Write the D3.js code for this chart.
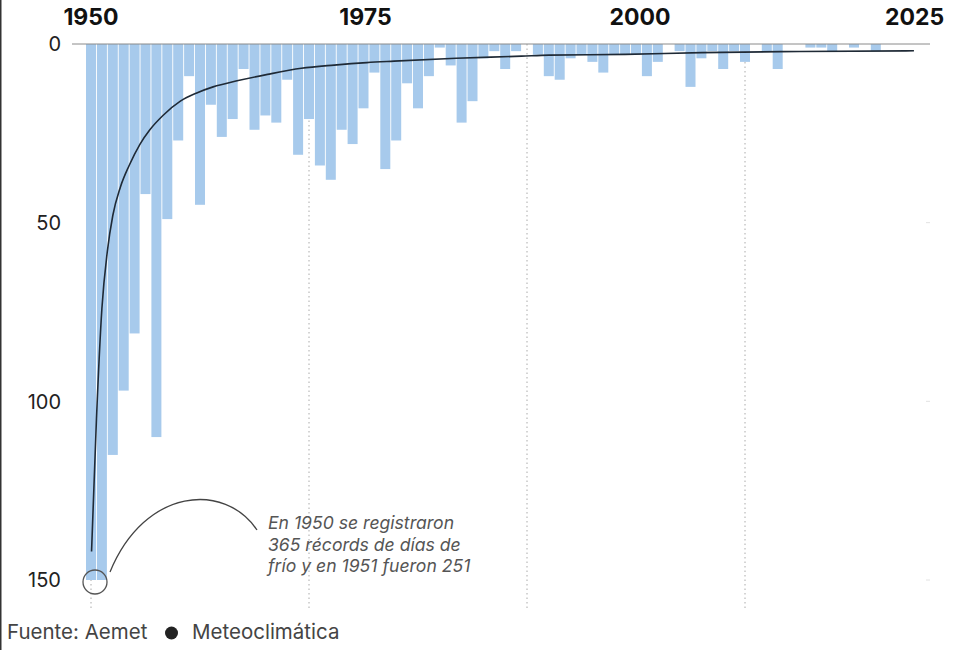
<!DOCTYPE html>
<html>
<head>
<meta charset="utf-8">
<script src="https://cdn.jsdelivr.net/npm/d3@7"></script>
<style>
	body { margin: 0; background: #fff; }
	svg { display: block; font-family: Inter, "Noto Sans", sans-serif; }
	.bar { fill: #a7caec; }
	.grid { stroke: #aaa; stroke-dasharray: 1.5 3; }
	.baseline { stroke: #8a8a8a; }
	.trend { fill: none; stroke: #1f2a36; stroke-width: 1.6; }
	.y-label { font-size: 20px; fill: #222; }
	.x-label { font-size: 23px; font-weight: 700; fill: #111; }
	.note { font-size: 17.6px; font-style: italic; fill: #555; }
	.source { font-size: 20.5px; fill: #444; }
</style>
</head>
<body>
<svg id="chart" width="960" height="650"></svg>
<script>
// récords de días de frío por año (1950 y 1951 salen del gráfico)
const years = d3.range(1950, 2025);
const records = [
	365, 251, 115, 97, 81, 42, 110, 49, 27, 9,
	45, 17, 26, 21, 7, 24, 20, 22, 10, 31,
	21, 34, 38, 24, 28, 18, 8, 35, 27, 11,
	18, 9, 1, 6, 22, 16, 4, 2, 7, 2,
	0, 3, 9, 10, 4, 3, 5, 8, 3, 3,
	3, 9, 5, 0, 2, 12, 4, 2, 7, 2,
	5, 0, 2, 7, 0, 0, 1, 1, 2, 0,
	1, 0, 2, 0, 0
];

// tendencia
const trendYears = [1950.05, 1950.5, 1951, 1951.5, 1952, 1952.7, 1953.5, 1954.5, 1955.4, 1956.6, 1958.2, 1959.7, 1961.2, 1963.4, 1966.2, 1969.3, 1972.3, 1975.3, 1977.8, 1983.5, 1989.5, 1992, 1999, 2006, 2015, 2025.5];
const trendValues = [142, 105, 74, 58, 48, 40, 34, 28, 24, 20, 16, 13.7, 12, 10.3, 8.5, 6.8, 5.9, 5.2, 4.8, 4.0, 3.4, 3.1, 2.9, 2.4, 2.1, 1.9];

const xTicks = [1950, 1975, 2000, 2025];
const gridYears = [1950, 1970, 1990, 2010];
const yTicks = [0, 50, 100, 150];

const noteLines = [
	'En 1950 se registraron',
	'365 récords de días de',
	'frío y en 1951 fueron 251'
];

const svg = d3.select('#chart');

const x = d3.scaleLinear().domain([1950, 2025]).range([91, 908.5]);
const y = d3.scaleLinear().domain([0, 150]).range([44, 580]).clamp(true);
const barWidth = 10;

// borde izquierdo del recorte
svg.append('rect').attr('x', 0).attr('y', 0).attr('width', 1.5).attr('height', 650).attr('fill', '#333');

svg.append('g')
	.selectAll('line')
	.data(gridYears)
	.join('line')
	.attr('class', 'grid')
	.attr('x1', d => x(d)).attr('x2', d => x(d))
	.attr('y1', y(0)).attr('y2', 608);

// marcas pequeñas a la derecha
svg.append('g')
	.selectAll('line')
	.data(yTicks.slice(1))
	.join('line')
	.attr('x1', 926).attr('x2', 930)
	.attr('y1', d => y(d)).attr('y2', d => y(d))
	.attr('stroke', '#e2e2e2');

svg.append('g')
	.selectAll('rect')
	.data(years)
	.join('rect')
	.attr('class', 'bar')
	.attr('x', (d, i) => x(d) - barWidth / 2)
	.attr('y', y(0))
	.attr('width', barWidth)
	.attr('height', (d, i) => y(records[i]) - y(0));

svg.append('line')
	.attr('class', 'baseline')
	.attr('x1', 72).attr('x2', 930)
	.attr('y1', y(0)).attr('y2', y(0));

const trendLine = d3.line()
	.x(d => x(d[0]))
	.y(d => y(d[1]))
	.curve(d3.curveMonotoneX);

svg.append('path')
	.attr('class', 'trend')
	.attr('d', trendLine(d3.zip(trendYears, trendValues)));

svg.append('g')
	.selectAll('text')
	.data(yTicks)
	.join('text')
	.attr('class', 'y-label')
	.attr('x', 61)
	.attr('y', d => y(d))
	.attr('dy', '0.36em')
	.attr('text-anchor', 'end')
	.text(d => d);

svg.append('g')
	.selectAll('text')
	.data(xTicks)
	.join('text')
	.attr('class', 'x-label')
	.attr('x', d => x(d) + (d - 1950) * 0.08)
	.attr('y', 25)
	.attr('text-anchor', 'middle')
	.text(d => d);

// anotación
const cx = x(1950) + 4;
const cy = y(150) + 2;
svg.append('circle')
	.attr('cx', cx).attr('cy', cy).attr('r', 12)
	.attr('fill', 'none').attr('stroke', '#555').attr('stroke-width', 1.3);

const arc = d3.path();
arc.moveTo(cx + 15, cy - 10);
arc.bezierCurveTo(cx + 50, cy - 95, cx + 130, cy - 100, cx + 162, cy - 52);
svg.append('path')
	.attr('d', arc.toString())
	.attr('fill', 'none').attr('stroke', '#444').attr('stroke-width', 1.3);

svg.append('text')
	.attr('class', 'note')
	.selectAll('tspan')
	.data(noteLines)
	.join('tspan')
	.attr('x', 268)
	.attr('y', (d, i) => 529 + i * 21.5)
	.text(d => d);

svg.append('text').attr('class', 'source').attr('x', 7).attr('y', 639).text('Fuente: Aemet');
svg.append('circle').attr('cx', 171.5).attr('cy', 633).attr('r', 6.5).attr('fill', '#222');
svg.append('text').attr('class', 'source').attr('x', 192).attr('y', 639).text('Meteoclimática');
</script>
</body>
</html>
